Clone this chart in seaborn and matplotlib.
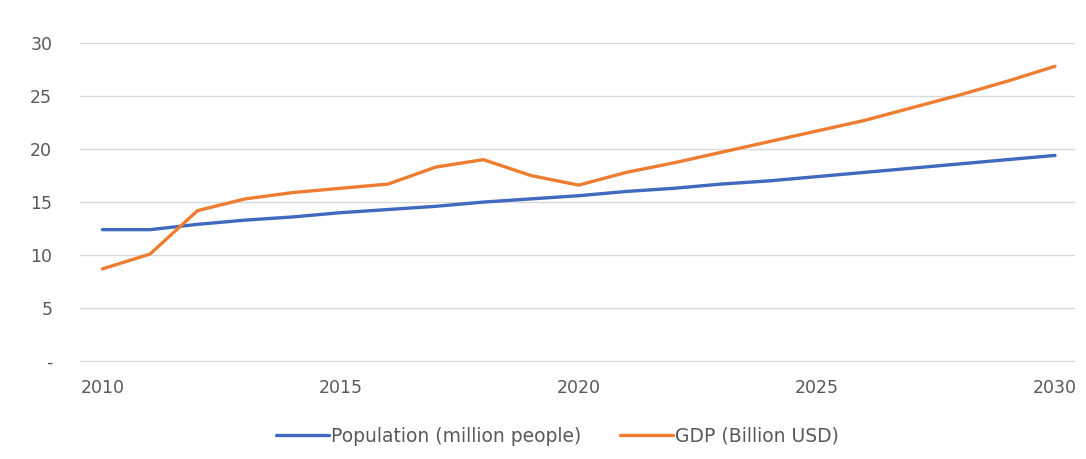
import pandas as pd
import matplotlib.pyplot as plt
import seaborn as sns

years = list(range(2010, 2031))
population = [12.4, 12.4, 12.9, 13.3, 13.6, 14.0, 14.3, 14.6, 15.0, 15.3, 15.6,
              16.0, 16.3, 16.7, 17.0, 17.4, 17.8, 18.2, 18.6, 19.0, 19.4]
gdp = [8.7, 10.1, 14.2, 15.3, 15.9, 16.3, 16.7, 18.3, 19.0, 17.5, 16.6,
       17.8, 18.7, 19.7, 20.7, 21.7, 22.7, 23.9, 25.1, 26.4, 27.8]

df = pd.DataFrame({
    'year': years * 2,
    'value': population + gdp,
    'series': ['Population (million people)'] * len(years) + ['GDP (Billion USD)'] * len(years),
})

sns.set_style('white')
plt.rcParams['font.family'] = ['DejaVu Sans']
fig = plt.figure(figsize=(10.86, 4.59), dpi=100)
ax = fig.add_axes([80 / 1086, 1 - 362 / 459, (1075 - 80) / 1086, (362 - 43) / 459])

palette = {'Population (million people)': '#4169C0', 'GDP (Billion USD)': '#ED7D31'}
sns.lineplot(data=df, x='year', y='value', hue='series', palette=palette,
             linewidth=2.4, ax=ax)

ax.set_xlim(2009.53, 2030.42)
ax.set_ylim(-0.08, 30)
ax.set_yticks(range(0, 31, 5))
ax.set_yticklabels(['-'] + [str(v) for v in range(5, 31, 5)])
ax.set_xticks(range(2010, 2031, 5))
ax.grid(axis='y', color='#d9d9d9', linewidth=1)
ax.set_axisbelow(True)
for s in ax.spines.values():
    s.set_visible(False)
ax.tick_params(axis='both', length=0, labelsize=12.5, labelcolor='#595959')
ax.tick_params(axis='y', pad=20)
ax.tick_params(axis='x', pad=12)
ax.set_xlabel('')
ax.set_ylabel('')

ax.legend(loc='upper center', bbox_to_anchor=(0.48, -0.15), ncol=2, frameon=False,
          fontsize=13.5, labelcolor='#595959', handlelength=2.8, handletextpad=0.1,
          columnspacing=2.1)

fig.savefig('out.png', dpi=100)
